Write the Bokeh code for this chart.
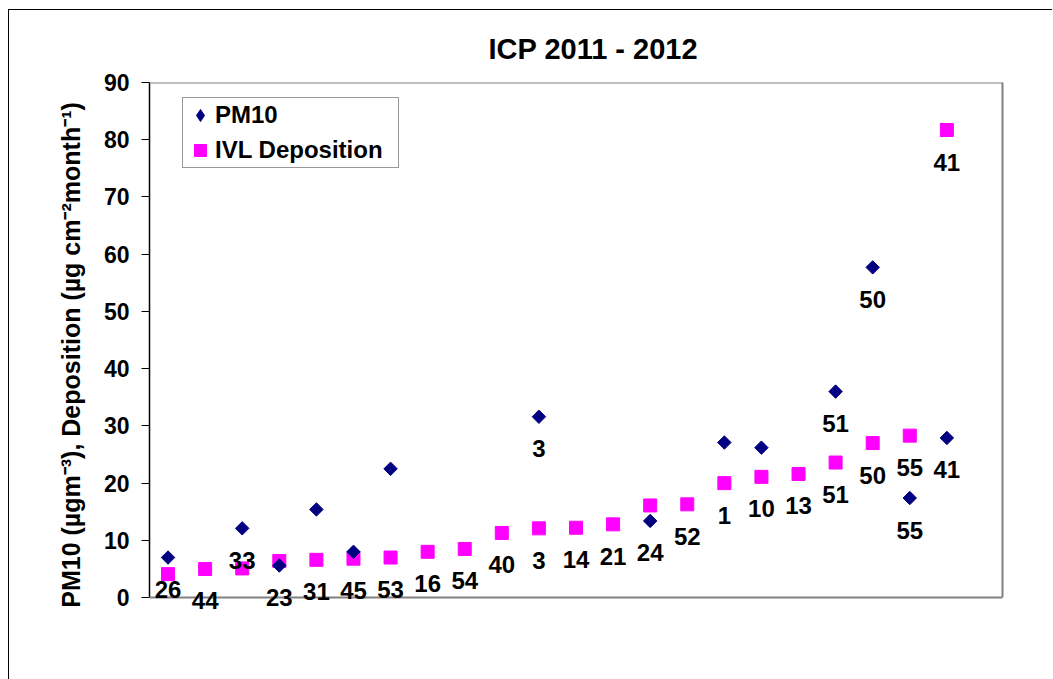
import numpy as np
from bokeh.plotting import figure
from bokeh.models import (ColumnDataSource, LabelSet, Legend, LegendItem, FixedTicker,
                          LinearAxis, Span)
from bokeh.core.properties import value
from bokeh.embed import file_html
from bokeh.resources import INLINE

# ---- data ----
sites = ["26", "44", "33", "23", "31", "45", "53", "16", "54", "40", "3",
         "14", "21", "24", "52", "1", "10", "13", "51", "50", "55", "41"]
pm10 = [7.0, np.nan, 12.1, 5.6, 15.4, 8.0, 22.5, np.nan, np.nan, np.nan, 31.6,
        np.nan, np.nan, 13.4, np.nan, 27.1, 26.2, np.nan, 36.0, 57.7, 17.4, 27.9]
deposition = [4.1, 5.0, 5.1, 6.4, 6.6, 6.8, 7.0, 8.0, 8.5, 11.3, 12.1,
              12.2, 12.8, 16.1, 16.3, 20.0, 21.1, 21.6, 23.6, 27.0, 28.3, 81.7]
pm10_labels = ["26", "", "33", "23", "", "", "", "", "", "", "3",
               "", "", "24", "", "", "", "", "51", "50", "55", "41"]
dep_labels = ["", "44", "", "", "31", "45", "53", "16", "54", "40", "3",
              "14", "21", "", "52", "1", "10", "13", "51", "50", "55", "41"]
y_ticks = [0, 10, 20, 30, 40, 50, 60, 70, 80, 90]

FONT = "Liberation Sans"
GRAY = "#808080"
NAVY = "#000080"
MAGENTA = "#FF00FF"
x = np.arange(1, len(sites) + 1)
x_end = len(sites) + 1.5

src = ColumnDataSource(dict(
    x=x,
    pm10=np.array(pm10, dtype=float),
    dep=np.array(deposition, dtype=float),
    pm_lab=pm10_labels,
    dep_lab=dep_labels,
))

# y range extends a little below 0 so labels under the axis are not clipped
p = figure(width=1044, height=670, x_range=(0.5, x_end), y_range=(-4, 90),
           output_backend="svg", toolbar_location=None,
           min_border_left=140, min_border_right=51, min_border_top=72, min_border_bottom=60)
p.margin = (9, 0, 0, 8)
p.styles = {"border-left": "1px solid #000", "border-top": "1px solid #000"}

p.title.text = "ICP 2011 - 2012"
p.title.align = "left"
p.title.offset = 339
p.title.text_font = FONT
p.title.text_font_size = "29px"
p.title.text_font_style = "bold"
p.title.text_color = "black"
p.title.standoff = 36

p.xgrid.visible = False
p.ygrid.visible = False
p.outline_line_color = None
p.background_fill_color = "white"
p.border_fill_color = "white"
p.xaxis.visible = False

# y axis
p.yaxis.bounds = (0, 90)
p.yaxis.ticker = FixedTicker(ticks=y_ticks)
p.yaxis.minor_tick_line_color = None
p.yaxis.major_tick_out = 8
p.yaxis.major_tick_in = 0
p.yaxis.major_tick_line_color = "black"
p.yaxis.axis_line_color = "black"
p.yaxis.axis_line_width = 1.5
p.yaxis.major_label_text_font = FONT
p.yaxis.major_label_text_font_size = "23px"
p.yaxis.major_label_text_font_style = "bold"
p.yaxis.major_label_text_color = "black"
p.yaxis.major_label_standoff = 12
p.yaxis.axis_label = "PM10 (\u00b5gm\u207b\u00b3),  Deposition (\u00b5g cm\u207b\u00b2month\u207b\u00b9)"
p.yaxis.axis_label_text_font = FONT
p.yaxis.axis_label_text_font_size = "25px"
p.yaxis.axis_label_text_font_style = "bold"
p.yaxis.axis_label_text_color = "black"
p.yaxis.axis_label_standoff = 16

# plot-area frame: right edge, top edge and the x axis line at 0
right_axis = LinearAxis(bounds=(0, 90), ticker=FixedTicker(ticks=[]),
                        major_label_text_font_size="0px",
                        major_tick_line_color=None, minor_tick_line_color=None,
                        axis_line_color=GRAY, axis_line_width=2)
p.add_layout(right_axis, "right")
p.add_layout(Span(location=90, dimension="width", line_color=GRAY, line_width=2))
p.add_layout(Span(location=0, dimension="width", line_color=GRAY, line_width=2))

r_dep = p.scatter("x", "dep", source=src, marker="square", size=13,
                  fill_color=MAGENTA, line_color=MAGENTA)
r_pm = p.scatter("x", "pm10", source=src, marker="square", size=9.5, angle=np.pi / 4,
                 fill_color=NAVY, line_color=NAVY)
# legend-only glyph (the legend does not rotate markers); its one point is NaN, so not drawn
r_pm_leg = p.scatter(x=[np.nan], y=[np.nan], marker="diamond", size=13,
                     fill_color=NAVY, line_color=NAVY)

for col, txt in (("pm10", "pm_lab"), ("dep", "dep_lab")):
    ls = LabelSet(x="x", y=col, text=txt, source=src, y_offset=-32,
                  text_align="center", text_baseline="middle",
                  text_font=value(FONT), text_font_size="24px", text_font_style="bold",
                  text_color="black")
    p.add_layout(ls)

legend = Legend(items=[LegendItem(label="PM10", renderers=[r_pm_leg]),
                       LegendItem(label="IVL Deposition", renderers=[r_dep])],
                location=(33, 452))
legend.label_text_font = FONT
legend.label_text_font_size = "24px"
legend.label_text_font_style = "bold"
legend.label_text_color = "black"
legend.border_line_color = "#333333"
legend.border_line_width = 1.5
legend.padding = 2
legend.spacing = 5
legend.glyph_width = 30
legend.glyph_height = 30
legend.label_height = 30
legend.label_width = 181
legend.label_standoff = 0
legend.margin = 0
legend.background_fill_alpha = 1
p.add_layout(legend)

open("out.html", "w").write(file_html(p, INLINE))
